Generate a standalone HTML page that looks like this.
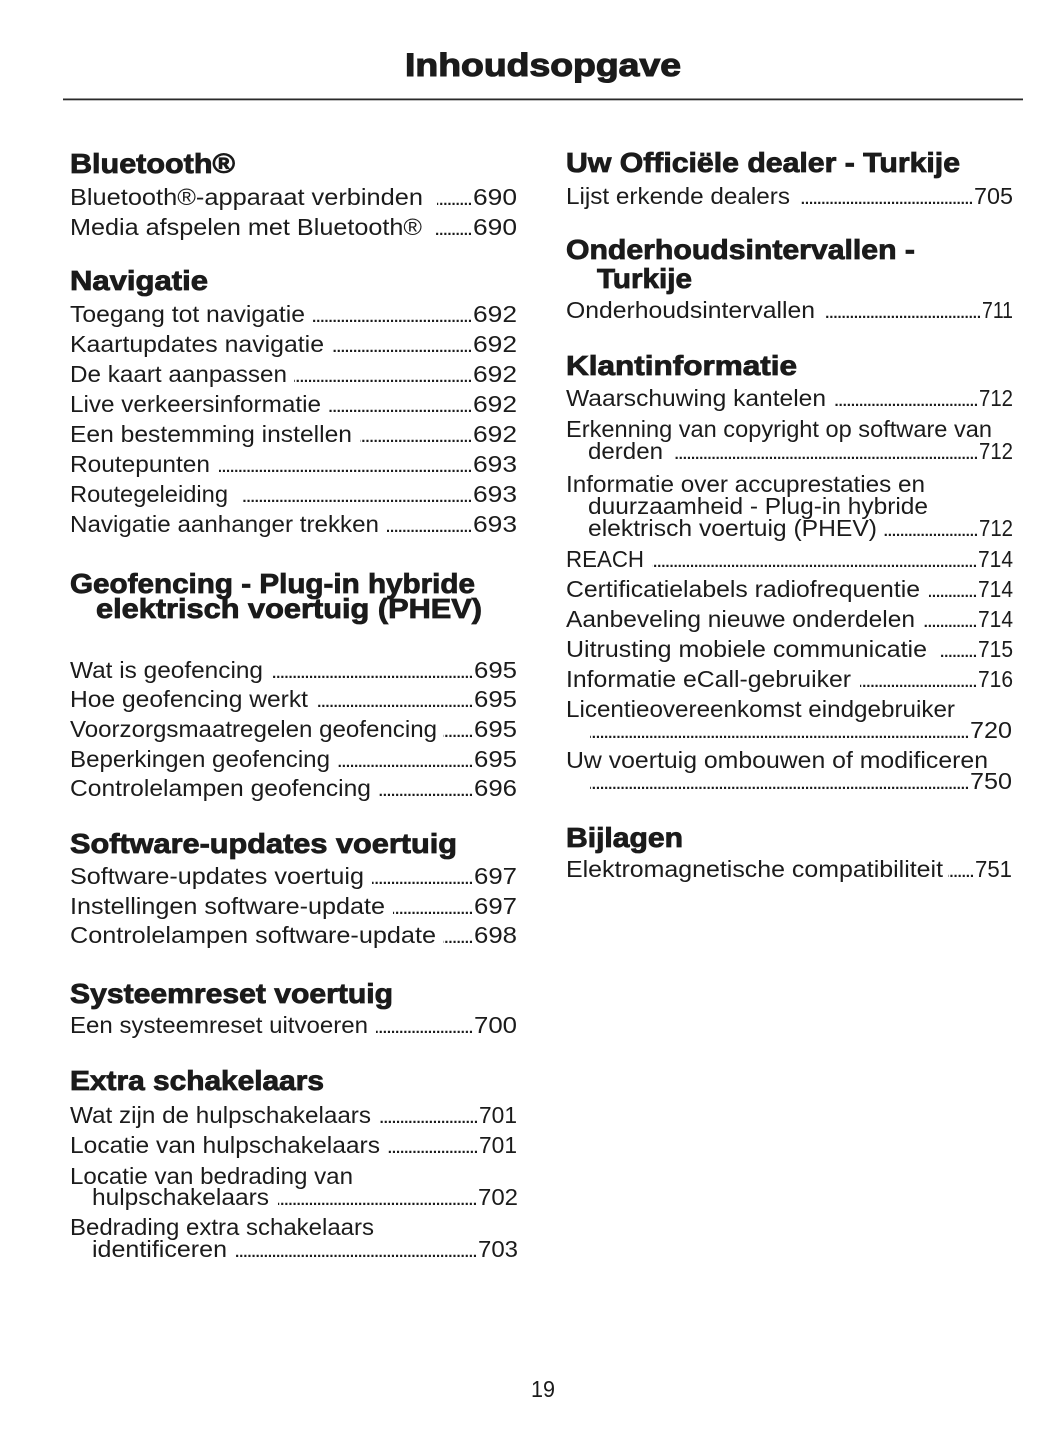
<!DOCTYPE html>
<html>
<head>
<meta charset="utf-8">
<style>
html,body{margin:0;padding:0;background:#fff;}
svg{display:block;}
.b{font-family:"Liberation Sans",Arial,sans-serif;font-size:23px;fill:#1b1b1b;}
.h{font-family:"Liberation Sans",Arial,sans-serif;font-size:28px;font-weight:bold;fill:#1b1b1b;stroke:#1b1b1b;stroke-width:0.85;}
.t{font-family:"Liberation Sans",Arial,sans-serif;font-size:32px;font-weight:bold;fill:#1b1b1b;stroke:#1b1b1b;stroke-width:1.1;}
.d{stroke:#1b1b1b;stroke-width:2.3;stroke-dasharray:2.1 2.0;fill:none;}
</style>
</head>
<body>
<svg width="1055" height="1448" viewBox="0 0 1055 1448" xmlns="http://www.w3.org/2000/svg">
<rect x="0" y="0" width="1055" height="1448" fill="#fff"/>
<!-- Title -->
<text class="t" x="405" y="76" textLength="276" lengthAdjust="spacingAndGlyphs">Inhoudsopgave</text>
<rect x="63" y="98.5" width="960" height="1.8" fill="#2a2a2a"/>

<!-- LEFT COLUMN -->
<text class="h" x="70" y="173" textLength="165" lengthAdjust="spacingAndGlyphs">Bluetooth®</text>
<text class="b" x="70" y="205" textLength="353" lengthAdjust="spacingAndGlyphs">Bluetooth®-apparaat verbinden</text>
<line class="d" x1="471" y1="203.9" x2="437" y2="203.9"/>
<text class="b" x="473" y="205" textLength="44" lengthAdjust="spacingAndGlyphs">690</text>
<text class="b" x="70" y="235" textLength="352" lengthAdjust="spacingAndGlyphs">Media afspelen met Bluetooth®</text>
<line class="d" x1="471" y1="233.9" x2="435" y2="233.9"/>
<text class="b" x="473" y="235" textLength="44" lengthAdjust="spacingAndGlyphs">690</text>

<text class="h" x="70" y="290" textLength="138" lengthAdjust="spacingAndGlyphs">Navigatie</text>
<text class="b" x="70" y="322" textLength="235" lengthAdjust="spacingAndGlyphs">Toegang tot navigatie</text>
<line class="d" x1="471" y1="320.9" x2="313" y2="320.9"/>
<text class="b" x="473" y="322" textLength="44" lengthAdjust="spacingAndGlyphs">692</text>
<text class="b" x="70" y="352" textLength="254" lengthAdjust="spacingAndGlyphs">Kaartupdates navigatie</text>
<line class="d" x1="471" y1="350.9" x2="333" y2="350.9"/>
<text class="b" x="473" y="352" textLength="44" lengthAdjust="spacingAndGlyphs">692</text>
<text class="b" x="70" y="382" textLength="217" lengthAdjust="spacingAndGlyphs">De kaart aanpassen</text>
<line class="d" x1="471" y1="380.9" x2="294" y2="380.9"/>
<text class="b" x="473" y="382" textLength="44" lengthAdjust="spacingAndGlyphs">692</text>
<text class="b" x="70" y="412" textLength="251" lengthAdjust="spacingAndGlyphs">Live verkeersinformatie</text>
<line class="d" x1="471" y1="410.9" x2="329" y2="410.9"/>
<text class="b" x="473" y="412" textLength="44" lengthAdjust="spacingAndGlyphs">692</text>
<text class="b" x="70" y="442" textLength="282" lengthAdjust="spacingAndGlyphs">Een bestemming instellen</text>
<line class="d" x1="471" y1="440.9" x2="360" y2="440.9"/>
<text class="b" x="473" y="442" textLength="44" lengthAdjust="spacingAndGlyphs">692</text>
<text class="b" x="70" y="472" textLength="140" lengthAdjust="spacingAndGlyphs">Routepunten</text>
<line class="d" x1="471" y1="470.9" x2="219" y2="470.9"/>
<text class="b" x="473" y="472" textLength="44" lengthAdjust="spacingAndGlyphs">693</text>
<text class="b" x="70" y="502" textLength="158" lengthAdjust="spacingAndGlyphs">Routegeleiding</text>
<line class="d" x1="471" y1="500.9" x2="242" y2="500.9"/>
<text class="b" x="473" y="502" textLength="44" lengthAdjust="spacingAndGlyphs">693</text>
<text class="b" x="70" y="532" textLength="309" lengthAdjust="spacingAndGlyphs">Navigatie aanhanger trekken</text>
<line class="d" x1="471" y1="530.9" x2="387" y2="530.9"/>
<text class="b" x="473" y="532" textLength="44" lengthAdjust="spacingAndGlyphs">693</text>

<text class="h" x="70" y="593" textLength="405" lengthAdjust="spacingAndGlyphs">Geofencing - Plug-in hybride</text>
<text class="h" x="96" y="618" textLength="386" lengthAdjust="spacingAndGlyphs">elektrisch voertuig (PHEV)</text>
<text class="b" x="70" y="678" textLength="193" lengthAdjust="spacingAndGlyphs">Wat is geofencing</text>
<line class="d" x1="472" y1="676.9" x2="273" y2="676.9"/>
<text class="b" x="474" y="678" textLength="43" lengthAdjust="spacingAndGlyphs">695</text>
<text class="b" x="70" y="707" textLength="238" lengthAdjust="spacingAndGlyphs">Hoe geofencing werkt</text>
<line class="d" x1="472" y1="705.9" x2="317" y2="705.9"/>
<text class="b" x="474" y="707" textLength="43" lengthAdjust="spacingAndGlyphs">695</text>
<text class="b" x="70" y="737" textLength="367" lengthAdjust="spacingAndGlyphs">Voorzorgsmaatregelen geofencing</text>
<line class="d" x1="472" y1="735.9" x2="443" y2="735.9"/>
<text class="b" x="474" y="737" textLength="43" lengthAdjust="spacingAndGlyphs">695</text>
<text class="b" x="70" y="767" textLength="260" lengthAdjust="spacingAndGlyphs">Beperkingen geofencing</text>
<line class="d" x1="472" y1="765.9" x2="338" y2="765.9"/>
<text class="b" x="474" y="767" textLength="43" lengthAdjust="spacingAndGlyphs">695</text>
<text class="b" x="70" y="796" textLength="301" lengthAdjust="spacingAndGlyphs">Controlelampen geofencing</text>
<line class="d" x1="472" y1="794.9" x2="379" y2="794.9"/>
<text class="b" x="474" y="796" textLength="43" lengthAdjust="spacingAndGlyphs">696</text>

<text class="h" x="70" y="853" textLength="387" lengthAdjust="spacingAndGlyphs">Software-updates voertuig</text>
<text class="b" x="70" y="884" textLength="294" lengthAdjust="spacingAndGlyphs">Software-updates voertuig</text>
<line class="d" x1="472" y1="882.9" x2="372" y2="882.9"/>
<text class="b" x="474" y="884" textLength="43" lengthAdjust="spacingAndGlyphs">697</text>
<text class="b" x="70" y="914" textLength="315" lengthAdjust="spacingAndGlyphs">Instellingen software-update</text>
<line class="d" x1="472" y1="912.9" x2="393" y2="912.9"/>
<text class="b" x="474" y="914" textLength="43" lengthAdjust="spacingAndGlyphs">697</text>
<text class="b" x="70" y="943" textLength="366" lengthAdjust="spacingAndGlyphs">Controlelampen software-update</text>
<line class="d" x1="472" y1="941.9" x2="443" y2="941.9"/>
<text class="b" x="474" y="943" textLength="43" lengthAdjust="spacingAndGlyphs">698</text>

<text class="h" x="70" y="1003" textLength="323" lengthAdjust="spacingAndGlyphs">Systeemreset voertuig</text>
<text class="b" x="70" y="1033" textLength="298" lengthAdjust="spacingAndGlyphs">Een systeemreset uitvoeren</text>
<line class="d" x1="472" y1="1031.9" x2="376" y2="1031.9"/>
<text class="b" x="474" y="1033" textLength="43" lengthAdjust="spacingAndGlyphs">700</text>

<text class="h" x="70" y="1090" textLength="254" lengthAdjust="spacingAndGlyphs">Extra schakelaars</text>
<text class="b" x="70" y="1123" textLength="301" lengthAdjust="spacingAndGlyphs">Wat zijn de hulpschakelaars</text>
<line class="d" x1="477" y1="1121.9" x2="380" y2="1121.9"/>
<text class="b" x="479" y="1123" textLength="38" lengthAdjust="spacingAndGlyphs">701</text>
<text class="b" x="70" y="1153" textLength="310" lengthAdjust="spacingAndGlyphs">Locatie van hulpschakelaars</text>
<line class="d" x1="477" y1="1151.9" x2="388" y2="1151.9"/>
<text class="b" x="479" y="1153" textLength="38" lengthAdjust="spacingAndGlyphs">701</text>
<text class="b" x="70" y="1184" textLength="283" lengthAdjust="spacingAndGlyphs">Locatie van bedrading van</text>
<text class="b" x="92" y="1205" textLength="177" lengthAdjust="spacingAndGlyphs">hulpschakelaars</text>
<line class="d" x1="476" y1="1203.9" x2="278" y2="1203.9"/>
<text class="b" x="478" y="1205" textLength="40" lengthAdjust="spacingAndGlyphs">702</text>
<text class="b" x="70" y="1235" textLength="304" lengthAdjust="spacingAndGlyphs">Bedrading extra schakelaars</text>
<text class="b" x="92" y="1257" textLength="135" lengthAdjust="spacingAndGlyphs">identificeren</text>
<line class="d" x1="476" y1="1255.9" x2="235" y2="1255.9"/>
<text class="b" x="478" y="1257" textLength="40" lengthAdjust="spacingAndGlyphs">703</text>

<!-- RIGHT COLUMN -->
<text class="h" x="566" y="172" textLength="394" lengthAdjust="spacingAndGlyphs">Uw Officiële dealer - Turkije</text>
<text class="b" x="566" y="204" textLength="224" lengthAdjust="spacingAndGlyphs">Lijst erkende dealers</text>
<line class="d" x1="972" y1="202.9" x2="800" y2="202.9"/>
<text class="b" x="974" y="204" textLength="39" lengthAdjust="spacingAndGlyphs">705</text>

<text class="h" x="566" y="259" textLength="349" lengthAdjust="spacingAndGlyphs">Onderhoudsintervallen -</text>
<text class="h" x="597" y="288" textLength="95" lengthAdjust="spacingAndGlyphs">Turkije</text>
<text class="b" x="566" y="318" textLength="249" lengthAdjust="spacingAndGlyphs">Onderhoudsintervallen</text>
<line class="d" x1="980" y1="316.9" x2="825" y2="316.9"/>
<text class="b" x="982" y="318" textLength="31" lengthAdjust="spacingAndGlyphs">711</text>

<text class="h" x="566" y="375" textLength="231" lengthAdjust="spacingAndGlyphs">Klantinformatie</text>
<text class="b" x="566" y="406" textLength="260" lengthAdjust="spacingAndGlyphs">Waarschuwing kantelen</text>
<line class="d" x1="977" y1="404.9" x2="835" y2="404.9"/>
<text class="b" x="979" y="406" textLength="34" lengthAdjust="spacingAndGlyphs">712</text>
<text class="b" x="566" y="437" textLength="426" lengthAdjust="spacingAndGlyphs">Erkenning van copyright op software van</text>
<text class="b" x="588" y="459" textLength="75" lengthAdjust="spacingAndGlyphs">derden</text>
<line class="d" x1="977" y1="457.9" x2="675" y2="457.9"/>
<text class="b" x="979" y="459" textLength="34" lengthAdjust="spacingAndGlyphs">712</text>
<text class="b" x="566" y="492" textLength="359" lengthAdjust="spacingAndGlyphs">Informatie over accuprestaties en</text>
<text class="b" x="588" y="514" textLength="340" lengthAdjust="spacingAndGlyphs">duurzaamheid - Plug-in hybride</text>
<text class="b" x="588" y="536" textLength="289" lengthAdjust="spacingAndGlyphs">elektrisch voertuig (PHEV)</text>
<line class="d" x1="977" y1="534.9" x2="883" y2="534.9"/>
<text class="b" x="979" y="536" textLength="34" lengthAdjust="spacingAndGlyphs">712</text>
<text class="b" x="566" y="567" textLength="78" lengthAdjust="spacingAndGlyphs">REACH</text>
<line class="d" x1="976" y1="565.9" x2="652" y2="565.9"/>
<text class="b" x="978" y="567" textLength="35" lengthAdjust="spacingAndGlyphs">714</text>
<text class="b" x="566" y="597" textLength="354" lengthAdjust="spacingAndGlyphs">Certificatielabels radiofrequentie</text>
<line class="d" x1="976" y1="595.9" x2="929" y2="595.9"/>
<text class="b" x="978" y="597" textLength="35" lengthAdjust="spacingAndGlyphs">714</text>
<text class="b" x="566" y="627" textLength="349" lengthAdjust="spacingAndGlyphs">Aanbeveling nieuwe onderdelen</text>
<line class="d" x1="976" y1="625.9" x2="923" y2="625.9"/>
<text class="b" x="978" y="627" textLength="35" lengthAdjust="spacingAndGlyphs">714</text>
<text class="b" x="566" y="657" textLength="361" lengthAdjust="spacingAndGlyphs">Uitrusting mobiele communicatie</text>
<line class="d" x1="976" y1="655.9" x2="940" y2="655.9"/>
<text class="b" x="978" y="657" textLength="35" lengthAdjust="spacingAndGlyphs">715</text>
<text class="b" x="566" y="687" textLength="285" lengthAdjust="spacingAndGlyphs">Informatie eCall-gebruiker</text>
<line class="d" x1="976" y1="685.9" x2="860" y2="685.9"/>
<text class="b" x="978" y="687" textLength="35" lengthAdjust="spacingAndGlyphs">716</text>
<text class="b" x="566" y="717" textLength="389" lengthAdjust="spacingAndGlyphs">Licentieovereenkomst eindgebruiker</text>
<line class="d" x1="968" y1="736.9" x2="590" y2="736.9"/>
<text class="b" x="970" y="738" textLength="42" lengthAdjust="spacingAndGlyphs">720</text>
<text class="b" x="566" y="768" textLength="422" lengthAdjust="spacingAndGlyphs">Uw voertuig ombouwen of modificeren</text>
<line class="d" x1="968" y1="787.9" x2="590" y2="787.9"/>
<text class="b" x="970" y="789" textLength="42" lengthAdjust="spacingAndGlyphs">750</text>

<text class="h" x="566" y="847" textLength="117" lengthAdjust="spacingAndGlyphs">Bijlagen</text>
<text class="b" x="566" y="877" textLength="377" lengthAdjust="spacingAndGlyphs">Elektromagnetische compatibiliteit</text>
<line class="d" x1="973" y1="875.9" x2="948" y2="875.9"/>
<text class="b" x="975" y="877" textLength="37" lengthAdjust="spacingAndGlyphs">751</text>

<!-- Page number -->
<text class="b" x="531" y="1397" textLength="24" lengthAdjust="spacingAndGlyphs">19</text>
</svg>
</body>
</html>
